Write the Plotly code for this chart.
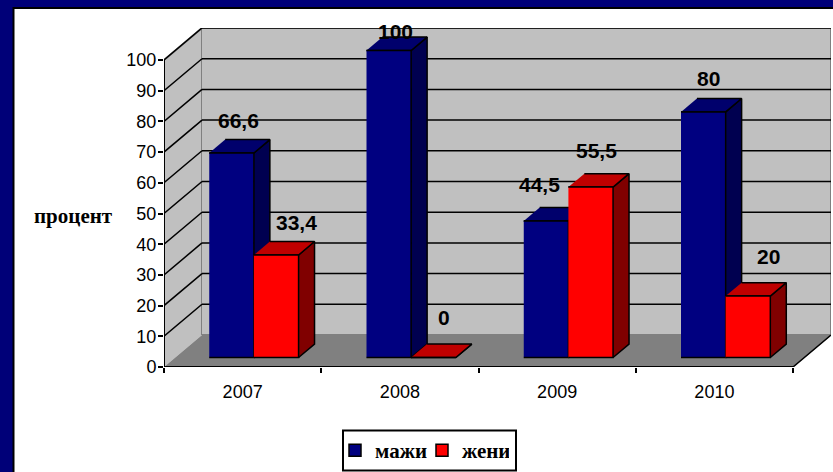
import plotly.graph_objects as go

# chart data
years = ["2007", "2008", "2009", "2010"]
mazhi = [66.6, 100, 44.5, 80]
zheni = [33.4, 0, 55.5, 20]
mazhi_labels = ["66,6", "100", "44,5", "80"]
zheni_labels = ["33,4", "0", "55,5", "20"]
y_ticks = [0, 10, 20, 30, 40, 50, 60, 70, 80, 90, 100]

# the labels were hand placed in the original, so each one has its own nudge (px)
mazhi_nudge = [(7, 33), (7, 19), (-7, 36), (5, 33)]
zheni_nudge = [(20, 32), (11, 40), (6, 37), (21, 40)]

W, H = 833, 472
LEFT, RIGHT, TOP, BOTTOM = 164, 831, 28, 367
CAT_PX = 157.25
VAL_PX = 3.07
DEPTH_X = 38 / CAT_PX
DEPTH_Y = 32 / VAL_PX
X_MAX = (RIGHT - LEFT) / CAT_PX
Y_MAX = (BOTTOM - TOP) / VAL_PX

GAP = 0.216
BAR_W = 0.284
BAR_D0 = 0.297
BAR_D1 = 0.717


def proj(x, y, d=0.0):
    return x + d * DEPTH_X, y + d * DEPTH_Y


def px_x(p):
    return (p - LEFT) / (RIGHT - LEFT)


def px_y(p):
    return (BOTTOM - p) / (BOTTOM - TOP)


def poly(points, fill, line_color="black", line_width=1.5):
    xs, ys = zip(*[proj(*p) for p in points])
    return go.Scatter(
        x=list(xs), y=list(ys), mode="lines", fill="toself", fillcolor=fill,
        line=dict(color=line_color, width=line_width),
        hoverinfo="skip", showlegend=False, cliponaxis=False,
    )


def segment(p0, p1, color="black", width=1.5):
    x0, y0 = proj(*p0)
    x1, y1 = proj(*p1)
    return go.Scatter(
        x=[x0, x1], y=[y0, y1], mode="lines",
        line=dict(color=color, width=width),
        hoverinfo="skip", showlegend=False, cliponaxis=False,
    )


def bar_faces(x0, val, front, side, top):
    x1 = x0 + BAR_W
    return [
        poly([(x1, 0, BAR_D0), (x1, 0, BAR_D1), (x1, val, BAR_D1), (x1, val, BAR_D0)], side),
        poly([(x0, val, BAR_D0), (x1, val, BAR_D0), (x1, val, BAR_D1), (x0, val, BAR_D1)], top),
        poly([(x0, 0, BAR_D0), (x1, 0, BAR_D0), (x1, val, BAR_D0), (x0, val, BAR_D0)], front),
    ]


fig = go.Figure()
n = len(years)

# walls and floor
fig.add_trace(poly([(0, 0, 0), (0, 100, 0), (0, 100, 1), (0, 0, 1)], "#c0c0c0", "#808080", 2))
fig.add_trace(poly([(0, 0, 1), (n, 0, 1), (n, 100, 1), (0, 100, 1)], "#c0c0c0", "#808080", 2))
fig.add_trace(poly([(0, 0, 0), (n, 0, 0), (n, 0, 1), (0, 0, 1)], "#808080", "#808080", 1))
for t in y_ticks[1:]:
    fig.add_trace(segment((0, t, 0), (0, t, 1)))
    fig.add_trace(segment((0, t, 1), (n, t, 1)))

# bars, back to front within each year
annotations = []
for i in range(n):
    x0 = i + GAP
    for tr in bar_faces(x0, mazhi[i], "#000080", "#000050", "#00006c"):
        fig.add_trace(tr)
    for tr in bar_faces(x0 + BAR_W, zheni[i], "#ff0000", "#800000", "#c00000"):
        fig.add_trace(tr)
    for xs, val, text, nudge in [
        (x0, mazhi[i], mazhi_labels[i], mazhi_nudge[i]),
        (x0 + BAR_W, zheni[i], zheni_labels[i], zheni_nudge[i]),
    ]:
        ax, ay = proj(xs + BAR_W / 2, val, BAR_D0)
        annotations.append(dict(
            x=ax, y=ay, xref="x", yref="y", text=text, showarrow=False,
            xshift=nudge[0], yshift=nudge[1],
            font=dict(family="Liberation Sans", size=21, color="black", weight="bold"),
        ))

# front axis lines, drawn by hand since the plot area also holds the depth offset
fig.add_trace(segment((0, 0, 0), (0, 100, 0), width=2))
fig.add_trace(segment((0, 0, 0), (n, 0, 0), width=2))
fig.add_trace(segment((n, 0, 0), (n, 0, 1), width=1.5))

# legend entries
fig.add_trace(go.Bar(x=[None], y=[None], name="мажи", marker=dict(color="#000080", line=dict(color="black", width=1.5))))
fig.add_trace(go.Bar(x=[None], y=[None], name="жени", marker=dict(color="#ff0000", line=dict(color="black", width=1.5))))

annotations.append(dict(
    x=px_x(73), y=px_y(216), xref="paper", yref="paper", xanchor="center", yanchor="middle",
    text="процент", showarrow=False,
    font=dict(family="Liberation Serif", size=21, color="black", weight="bold"),
))

shapes = [
    # white slide panel with its black rule
    dict(type="rect", xref="paper", yref="paper", layer="below",
         x0=px_x(13.5), x1=px_x(840), y0=px_y(8), y1=px_y(480),
         fillcolor="white", line=dict(color="black", width=2)),
    # legend frame, the library's own frame is too wide for these swatches
    dict(type="rect", xref="paper", yref="paper", layer="below",
         x0=px_x(343), x1=px_x(516), y0=px_y(430.5), y1=px_y(470.5),
         fillcolor="white", line=dict(color="black", width=2)),
]

fig.update_layout(
    width=W, height=H,
    margin=dict(l=LEFT, r=W - RIGHT, t=TOP, b=H - BOTTOM, autoexpand=False),
    paper_bgcolor="#000078",
    plot_bgcolor="rgba(0,0,0,0)",
    font=dict(family="Liberation Sans", size=18, color="black"),
    shapes=shapes,
    annotations=annotations,
    barmode="overlay",
    showlegend=True,
    legend=dict(
        orientation="h", xref="paper", yref="paper",
        x=px_x(335), xanchor="left", y=px_y(430), yanchor="top",
        bgcolor="rgba(0,0,0,0)", borderwidth=0,
        entrywidth=42, entrywidthmode="pixels",
        font=dict(family="Liberation Serif", size=21, color="black", weight="bold"),
        itemclick=False, itemdoubleclick=False,
    ),
    xaxis=dict(
        range=[0, X_MAX], showgrid=False, zeroline=False, showline=False,
        tickmode="array", tickvals=[i + 0.5 for i in range(n)], ticktext=years,
        ticks="", ticklabelstandoff=12,
        minor=dict(tickmode="array", tickvals=list(range(n + 1)), ticks="outside",
                   ticklen=5, tickwidth=2, tickcolor="black", showgrid=False),
    ),
    yaxis=dict(
        range=[0, Y_MAX], showgrid=False, zeroline=False, showline=False,
        tickmode="array", tickvals=y_ticks, ticklabelstandoff=-2,
        ticks="outside", ticklen=5, tickwidth=2, tickcolor="black",
    ),
)

fig.write_html(
    "out.html",
    config={"displayModeBar": False},
    post_script="document.body.style.margin='0';document.body.style.overflow='hidden';",
)
